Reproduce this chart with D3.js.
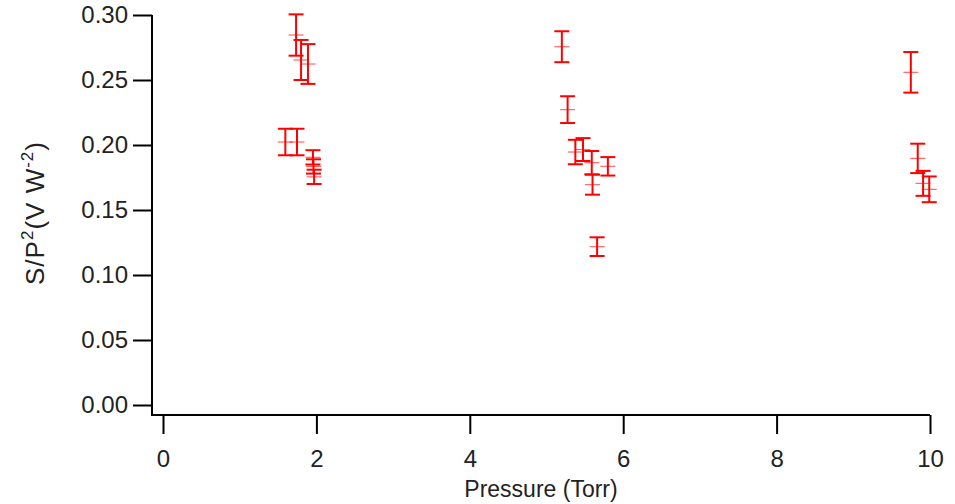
<!DOCTYPE html>
<html>
<head>
<meta charset="utf-8">
<script src="https://cdn.jsdelivr.net/npm/d3@7/dist/d3.min.js"></script>
<style>
  html, body { margin: 0; padding: 0; background: #fff; }
  svg { display: block; }
  text { font-family: "Liberation Sans", Arial, sans-serif; fill: #222; }
</style>
</head>
<body>
<svg id="chart" width="955" height="504"></svg>
<script>
// Pressure (Torr)
const pressure = [1.735, 1.80, 1.89, 1.595, 1.747, 1.955, 1.962, 1.97,
                  5.20, 5.275, 5.376, 5.476, 5.59, 5.60, 5.66, 5.80,
                  9.75, 9.84, 9.91, 9.99];
// S/P^2 (V W^-2)
const signal = [0.2846, 0.2654, 0.2623, 0.2023, 0.2023, 0.1905, 0.1835, 0.1755,
                0.2756, 0.2272, 0.1946, 0.1965, 0.1864, 0.1695, 0.1218, 0.1836,
                0.2559, 0.1897, 0.1705, 0.1659];
// error (±)
const errors = [0.0159, 0.0154, 0.0153, 0.0102, 0.0102, 0.0055, 0.0055, 0.0055,
                0.0119, 0.0103, 0.0094, 0.0088, 0.0090, 0.0077, 0.0072, 0.0071,
                0.0156, 0.0113, 0.0096, 0.0099];
const xTicks = [0, 2, 4, 6, 8, 10];
const yTicks = [0.00, 0.05, 0.10, 0.15, 0.20, 0.25, 0.30];

const svg = d3.select("#chart");
const x = d3.scaleLinear().domain([0, 10]).range([163, 930]);
const y = d3.scaleLinear().domain([0, 0.30]).range([405, 15]);
const axisX = 152, axisY = 415;
const fontSize = 24;

// Y axis
const gy = svg.append("g").attr("transform", `translate(${axisX},0)`)
  .call(d3.axisLeft(y).tickValues(yTicks).tickFormat(d3.format(".2f"))
        .tickSize(19).tickSizeOuter(0).tickPadding(5));
gy.select(".domain").remove();
gy.selectAll(".tick line").attr("stroke", "#000").attr("stroke-width", 2);
gy.selectAll(".tick text").attr("font-size", fontSize).attr("fill", "#222")
  .attr("font-family", "'Liberation Sans', Arial, sans-serif");

// X axis
const gx = svg.append("g").attr("transform", `translate(0,${axisY})`)
  .call(d3.axisBottom(x).tickValues(xTicks).tickFormat(d3.format("d"))
        .tickSize(19).tickSizeOuter(0).tickPadding(16));
gx.select(".domain").remove();
gx.selectAll(".tick line").attr("stroke", "#000").attr("stroke-width", 2);
gx.selectAll(".tick text").attr("font-size", fontSize).attr("fill", "#222")
  .attr("font-family", "'Liberation Sans', Arial, sans-serif");

// Axis lines
svg.append("path")
  .attr("d", `M${axisX},${y(0.30)}V${axisY}H${x(10)}`)
  .attr("fill", "none").attr("stroke", "#000").attr("stroke-width", 2);

// Error bars
const data = pressure.map((p, i) => ({p, s: signal[i], e: errors[i]}));
const capW = 7.5;
const bars = svg.append("g").attr("stroke", "#ff0000").attr("fill", "none");
data.forEach(d => {
  const cx = x(d.p), t = y(d.s + d.e), b = y(d.s - d.e), c = y(d.s);
  bars.append("line").attr("x1", cx).attr("x2", cx).attr("y1", t).attr("y2", b).attr("stroke-width", 2);
  bars.append("line").attr("x1", cx - capW).attr("x2", cx + capW).attr("y1", t).attr("y2", t).attr("stroke-width", 2);
  bars.append("line").attr("x1", cx - capW).attr("x2", cx + capW).attr("y1", b).attr("y2", b).attr("stroke-width", 2);
  bars.append("line").attr("x1", cx - capW).attr("x2", cx + capW).attr("y1", c).attr("y2", c)
    .attr("stroke-width", 1.2).attr("stroke-opacity", 0.6);
});

// Axis titles
svg.append("text").attr("x", 541).attr("y", 497)
  .attr("text-anchor", "middle").attr("font-size", 23).text("Pressure (Torr)");

const yt = svg.append("text").attr("transform", "translate(44,213) rotate(-90)")
  .attr("text-anchor", "middle").attr("font-size", 26).attr("letter-spacing", 1);
yt.append("tspan").text("S/P");
yt.append("tspan").attr("font-size", 17).attr("dy", -11).text("2");
yt.append("tspan").attr("dy", 11).text("(V W");
yt.append("tspan").attr("font-size", 17).attr("dy", -11).text("-2");
yt.append("tspan").attr("dy", 11).text(")");
</script>
</body>
</html>
